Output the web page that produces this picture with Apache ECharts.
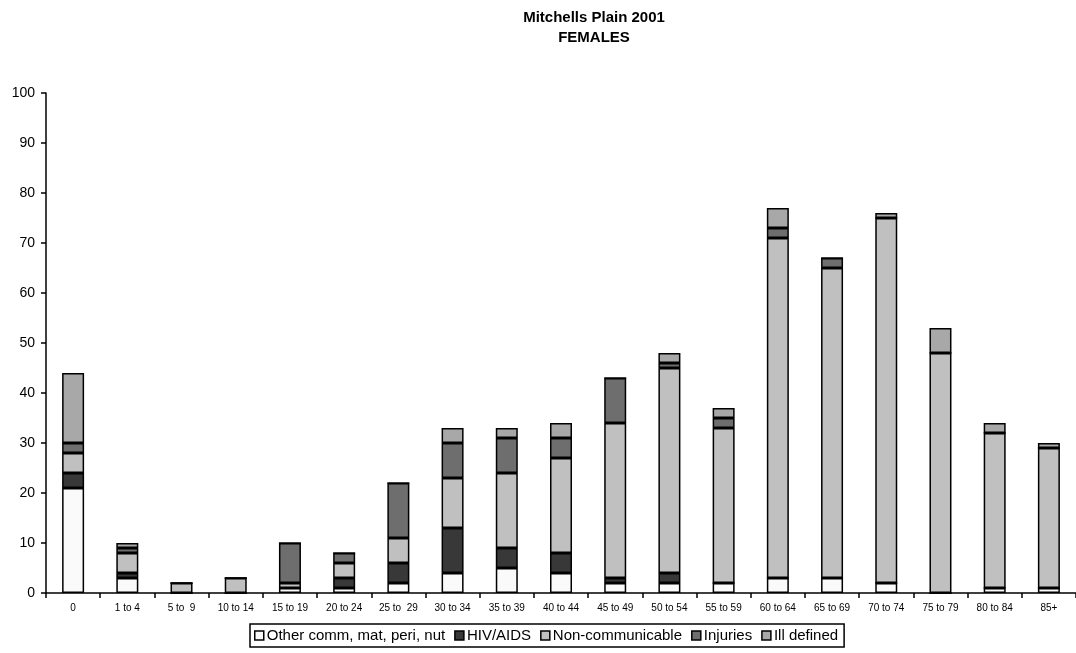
<!DOCTYPE html>
<html>
<head>
<meta charset="utf-8">
<script src="https://cdn.jsdelivr.net/npm/echarts@6/dist/echarts.min.js"></script>
<style>
html,body{margin:0;padding:0;background:#fff;}
#chart{width:1076px;height:653px;}
</style>
</head>
<body>
<div id="chart"></div>
<script>
const categories = ['0','1 to 4','5 to  9','10 to 14','15 to 19','20 to 24','25 to  29','30 to 34','35 to 39','40 to 44','45 to 49','50 to 54','55 to 59','60 to 64','65 to 69','70 to 74','75 to 79','80 to 84','85+'];
const otherComm   = [21, 3, 0, 0, 1, 1, 2, 4, 5, 4, 2, 2, 2, 3, 3, 2, 0, 1, 1];
const hivAids     = [3, 1, 0, 0, 0, 2, 4, 9, 4, 4, 1, 2, 0, 0, 0, 0, 0, 0, 0];
const nonComm     = [4, 4, 2, 3, 1, 3, 5, 10, 15, 19, 31, 41, 31, 68, 62, 73, 48, 31, 28];
const injuries    = [2, 1, 0, 0, 8, 2, 11, 7, 7, 4, 9, 1, 2, 2, 2, 0, 0, 0, 0];
const illDefined  = [14, 1, 0, 0, 0, 0, 0, 3, 2, 3, 0, 2, 2, 4, 0, 1, 5, 2, 1];
const seriesNames = ['Other comm, mat, peri, nut', 'HIV/AIDS', 'Non-communicable', 'Injuries', 'Ill defined'];
const yTicks = {min: 0, max: 100, interval: 10};

const colors = ['#fafafa', '#383838', '#c0c0c0', '#6e6e6e', '#a8a8a8'];
const dataSets = [otherComm, hivAids, nonComm, injuries, illDefined];
const font = '"Liberation Sans", Arial, sans-serif';

const chart = echarts.init(document.getElementById('chart'), null, {renderer: 'canvas'});
chart.setOption({
  animation: false,
  backgroundColor: '#fff',
  title: {
    text: 'Mitchells Plain 2001\nFEMALES',
    left: 594,
    top: 8,
    padding: 0,
    textAlign: 'center',
    textStyle: {fontFamily: font, fontSize: 15, fontWeight: 'bold', color: '#000', lineHeight: 20}
  },
  legend: {
    left: 250,
    top: 624,
    padding: [4, 6, 4, 4],
    borderColor: '#000',
    borderWidth: 1.5,
    itemGap: 9,
    itemWidth: 9,
    itemHeight: 9,
    icon: 'rect',
    selectedMode: false,
    textStyle: {fontFamily: font, fontSize: 15, color: '#000', padding: [0, 0, 0, -2]},
    itemStyle: {borderColor: '#000', borderWidth: 1.5},
    data: seriesNames
  },
  grid: {left: 46, right: -3, top: 93, bottom: 60, containLabel: false},
  xAxis: {
    type: 'category',
    data: categories,
    axisLine: {lineStyle: {color: '#000', width: 1.5}},
    axisTick: {show: true, length: 5, inside: false, lineStyle: {color: '#000', width: 1.5}},
    axisLabel: {fontFamily: font, fontSize: 10, color: '#000', interval: 0, margin: 10},
    splitLine: {show: false}
  },
  yAxis: {
    type: 'value',
    min: yTicks.min,
    max: yTicks.max,
    interval: yTicks.interval,
    axisLine: {show: true, lineStyle: {color: '#000', width: 1.5}},
    axisTick: {show: true, length: 5, lineStyle: {color: '#000', width: 1.5}},
    axisLabel: {fontFamily: font, fontSize: 14, color: '#000', margin: 11},
    splitLine: {show: false}
  },
  series: seriesNames.map((name, i) => ({
    name: name,
    type: 'bar',
    stack: 'total',
    barWidth: 22,
    data: dataSets[i],
    itemStyle: {color: colors[i], borderColor: '#000', borderWidth: 1.5},
    emphasis: {disabled: true}
  }))
});
</script>
</body>
</html>
